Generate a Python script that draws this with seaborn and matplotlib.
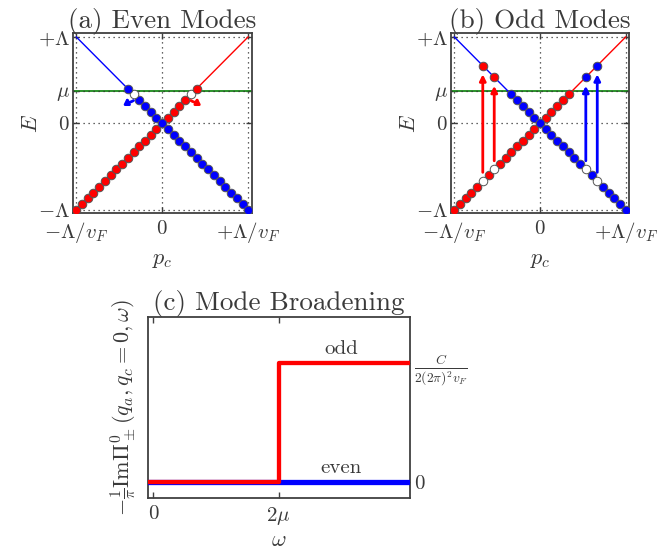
import numpy as np
import pandas as pd
import matplotlib
matplotlib.use("Agg")
import matplotlib.pyplot as plt
import seaborn as sns

# ---------------- data ----------------
MU = 0.37                      # chemical potential (units of Lambda)
# momentum lattice indices (p = k/15 in units of Lambda/v_F)
STEP = 1.0 / 15.0

# Panel (a) even modes
a_red_occ_k = [-15, -14, -13, -12, -11, -10, -9, -8, -7, -6, -5, -4, -3, -2, -1, 0, 1, 2, 3, 4]
a_red_hole_k = [5]
a_red_exc_k = [6]
a_blue_occ_k = [-4, -3, -2, -1, 0, 1, 2, 3, 4, 5, 6, 7, 8, 9, 10, 11, 12, 13, 14, 15]
a_blue_hole_k = [-5]
a_blue_exc_k = [-6]

# Panel (b) odd modes
b_red_occ_k = [-15, -14, -13, -12, -11, -9, -7, -6, -5, -4, -3, -2, -1, 0, 1, 2, 3, 4, 5]
b_red_hole_k = [-10, -8]
b_blue_occ_k = [-5, -4, -3, -2, -1, 0, 1, 2, 3, 4, 5, 6, 7, 9, 11, 12, 13, 14, 15]
b_blue_hole_k = [8, 10]
# excitations: red electrons jump onto blue branch, blue onto red branch
b_red_exc_k = [-10, -8]
b_blue_exc_k = [8, 10]

branch_p = [-1.0, 1.0]

# Panel (c) mode broadening
omega_even = [-0.045, 2.05]
val_even = [0.0, 0.0]
omega_odd = [-0.045, 1.0, 1.0, 2.05]
val_odd = [0.0, 0.0, 1.0, 1.0]

RED = "#ff0000"
BLUE = "#0000ff"
GREEN = "#1a8a1a"
TXT = "#3a3a3a"

# ---------------- style ----------------
sns.set_style("ticks")
plt.rcParams.update({
    "font.family": ["serif"],
    "font.serif": ["cmr10", "DejaVu Serif"],
    "mathtext.fontset": "cm",
    "axes.unicode_minus": False,
    "axes.edgecolor": "#404040",
    "axes.linewidth": 1.3,
    "text.color": TXT,
    "axes.labelcolor": TXT,
    "xtick.color": "#404040",
    "ytick.color": "#404040",
    "xtick.labelcolor": TXT,
    "ytick.labelcolor": TXT,
    "xtick.direction": "in",
    "ytick.direction": "in",
})

fig = plt.figure(figsize=(6.58, 5.52), dpi=100)
axA = fig.add_axes([0.1105, 0.6136, 0.272, 0.326])
axB = fig.add_axes([0.685, 0.6136, 0.2714, 0.326])
axC = fig.add_axes([0.2245, 0.0984, 0.3986, 0.328])


def pts(ks, sign):
    p = np.array(ks, dtype=float) * STEP
    return pd.DataFrame({"p": p, "E": sign * p})


def band_axes(ax, title):
    lim = 1.04
    ax.set_xlim(-lim, lim)
    ax.set_ylim(-lim, lim)
    for v in [-1, 0, 1]:
        ax.axvline(v, color="#333333", lw=0.9, ls=(0, (1, 3)), zorder=1)
    for v in [-1, 0, MU, 1]:
        ax.axhline(v, color="#333333", lw=0.9, ls=(0, (1, 3)), zorder=1.5)
    ax.axhline(MU, color=GREEN, lw=1.3, zorder=1.2)
    # full branches as thin lines
    sns.lineplot(x=branch_p, y=branch_p, ax=ax, color=RED, lw=1.0, zorder=2)
    sns.lineplot(x=branch_p, y=[-v for v in branch_p], ax=ax, color=BLUE, lw=1.0, zorder=2)
    ax.set_xticks([-1, 0, 1])
    ax.set_xticklabels([r"$-\Lambda/v_F$", r"$0$", r"$+\Lambda/v_F$"], fontsize=15)
    ax.set_yticks([-1, 0, MU, 1])
    ax.set_yticklabels([r"$-\Lambda$", r"$0$", r"$\mu$", r"$+\Lambda$"], fontsize=15)
    ax.tick_params(top=True, right=True, length=4, width=1.0)
    ax.tick_params(axis="x", pad=5)
    ax.tick_params(axis="y", pad=2)
    ax.set_xlabel(r"$p_c$", fontsize=16, labelpad=4)
    ax.set_ylabel(r"$E$", fontsize=16, labelpad=-2)
    ax.set_title(title, fontsize=19.5, pad=3.5, color=TXT)


def dots(ax, df, color):
    sns.scatterplot(data=df, x="p", y="E", ax=ax, color=color, s=38,
                    edgecolor="#555555", linewidth=0.7, zorder=4, legend=False)


# ---- (a) ----
band_axes(axA, "(a) Even Modes")
dots(axA, pts(a_red_occ_k, 1), RED)
dots(axA, pts(a_blue_occ_k, -1), BLUE)
dots(axA, pts(a_red_hole_k, 1), "white")
dots(axA, pts(a_blue_hole_k, -1), "white")
dots(axA, pts(a_red_exc_k, 1), RED)
dots(axA, pts(a_blue_exc_k, -1), BLUE)
for k, sign, col in [(a_blue_hole_k[0], -1, BLUE), (a_red_hole_k[0], 1, RED)]:
    p0 = k * STEP
    E0 = sign * p0
    dx = -0.09 if sign < 0 else 0.09
    axA.annotate("", xy=(p0 + dx * 0.8, E0 - 0.03), xytext=(p0 + 0.0, E0 - 0.07),
                 arrowprops=dict(arrowstyle="-|>", color=col, lw=2.0, mutation_scale=8,
                                 shrinkA=0, shrinkB=0,
                                 connectionstyle="arc3,rad=%s" % (-0.9 if sign < 0 else 0.9)),
                 zorder=5)

# ---- (b) ----
band_axes(axB, "(b) Odd Modes")
dots(axB, pts(b_red_occ_k, 1), RED)
dots(axB, pts(b_blue_occ_k, -1), BLUE)
dots(axB, pts(b_red_hole_k, 1), "white")
dots(axB, pts(b_blue_hole_k, -1), "white")
dots(axB, pts(b_red_exc_k, -1), RED)
dots(axB, pts(b_blue_exc_k, 1), BLUE)
for k in b_red_hole_k:
    p0 = k * STEP
    axB.annotate("", xy=(p0, -p0 - 0.1), xytext=(p0, p0 + 0.1),
                 arrowprops=dict(arrowstyle="-|>", color=RED, lw=2.0, mutation_scale=9,
                                 shrinkA=0, shrinkB=0), zorder=5)
for k in b_blue_hole_k:
    p0 = k * STEP
    axB.annotate("", xy=(p0, p0 - 0.1), xytext=(p0, -p0 + 0.1),
                 arrowprops=dict(arrowstyle="-|>", color=BLUE, lw=2.0, mutation_scale=9,
                                 shrinkA=0, shrinkB=0), zorder=5)

# ---- (c) ----
sns.lineplot(x=omega_even, y=val_even, ax=axC, color=BLUE, lw=3.8,
             estimator=None, sort=False, zorder=3)
sns.lineplot(x=omega_odd, y=val_odd, ax=axC, color=RED, lw=3.1,
             estimator=None, sort=False, zorder=4)
axC.set_xlim(-0.045, 2.05)
axC.set_ylim(-0.135, 1.39)
axC.set_xticks([0, 1])
axC.set_xticklabels([r"$0$", r"$2\mu$"], fontsize=15)
axC.yaxis.tick_right()
axC.set_yticks([0, 1])
axC.set_yticklabels([r"$0$", r"$\frac{C}{2(2\pi)^2v_F}$"], fontsize=14)
axC.get_yticklabels()[0].set_fontsize(15)
axC.yaxis.set_label_position("left")
axC.tick_params(axis="x", top=True, length=4, width=1.0, pad=5)
axC.tick_params(axis="y", right=True, left=False, length=4, width=1.0, pad=3)
axC.set_xlabel(r"$\omega$", fontsize=16, labelpad=3)
axC.set_ylabel(r"$-\frac{1}{\pi}\mathrm{Im}\Pi^0_\pm(q_a,q_c=0,\omega)$", fontsize=16, labelpad=6)
axC.set_title("(c) Mode Broadening", fontsize=19.5, pad=4.5, color=TXT)
axC.text(1.5, 1.04, "odd", fontsize=15, ha="center", va="bottom", color=TXT)
axC.text(1.5, 0.04, "even", fontsize=15, ha="center", va="bottom", color=TXT)

fig.savefig("out.png", dpi=100)
